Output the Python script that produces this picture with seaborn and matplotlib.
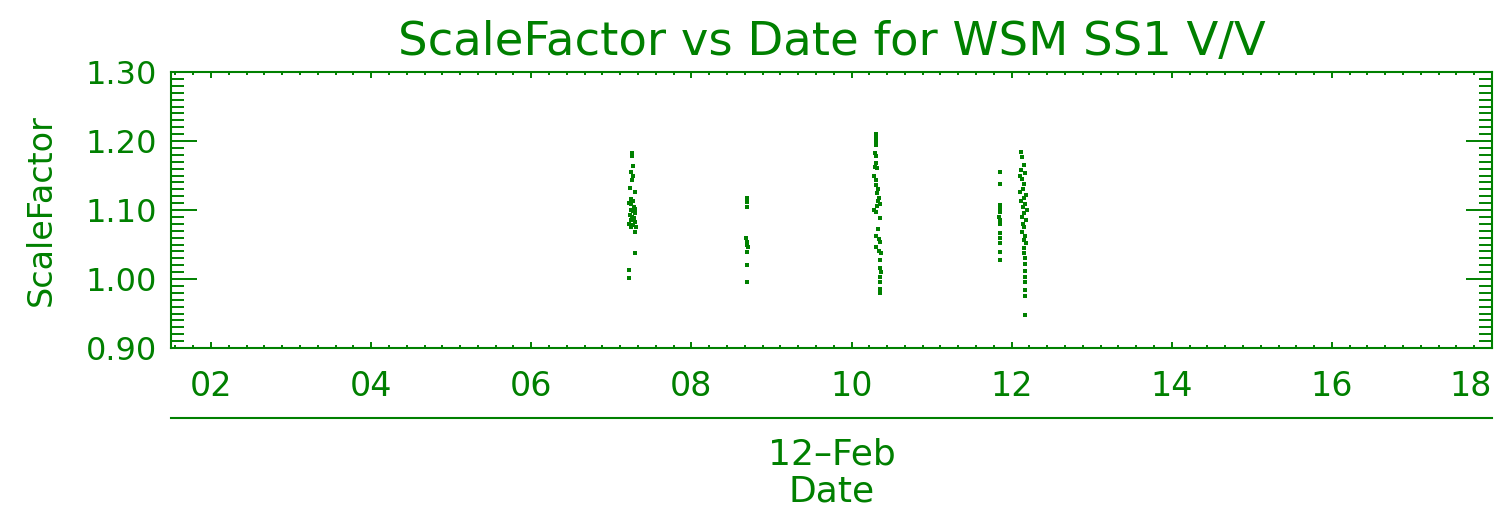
"""
plot.py - ScaleFactor vs Date for WSM SS1 V/V (IDL-style green scatter)
"""

import pandas as pd
import numpy as np
import matplotlib
matplotlib.use('Agg')
import matplotlib.pyplot as plt
from matplotlib.ticker import MultipleLocator, FuncFormatter
import seaborn as sns

# ============================================================
# DATA (day of February, scale factor)
# ============================================================

day_pass1 = [7.26, 7.26, 7.27, 7.25, 7.27, 7.26, 7.23, 7.29, 7.24, 7.27,
             7.22, 7.25, 7.28, 7.30, 7.24, 7.27, 7.29, 7.23, 7.26, 7.28,
             7.25, 7.30, 7.22, 7.27, 7.24, 7.31, 7.29, 7.30, 7.22, 7.22]
sf_pass1 = [1.183, 1.178, 1.164, 1.155, 1.150, 1.143, 1.132, 1.126, 1.116, 1.113,
            1.110, 1.108, 1.105, 1.102, 1.100, 1.098, 1.095, 1.093, 1.090, 1.088,
            1.085, 1.083, 1.080, 1.078, 1.076, 1.075, 1.068, 1.038, 1.013, 1.001]

day_pass2 = [8.70, 8.70, 8.70, 8.68, 8.69, 8.70, 8.71, 8.69, 8.70, 8.69]
sf_pass2 = [1.117, 1.111, 1.104, 1.060, 1.054, 1.050, 1.046, 1.039, 1.021, 0.996]

day_pass3 = [10.30, 10.30, 10.30, 10.30, 10.29, 10.30, 10.31, 10.29, 10.32, 10.28,
             10.30, 10.31, 10.33, 10.32, 10.34, 10.33, 10.32, 10.35, 10.28, 10.30,
             10.35, 10.33, 10.30, 10.34, 10.36, 10.30, 10.34, 10.37, 10.36, 10.35,
             10.37, 10.36, 10.35, 10.36, 10.36]
sf_pass3 = [1.210, 1.205, 1.199, 1.194, 1.183, 1.178, 1.168, 1.163, 1.161, 1.150,
            1.144, 1.136, 1.130, 1.125, 1.118, 1.113, 1.106, 1.108, 1.100, 1.097,
            1.088, 1.072, 1.062, 1.058, 1.053, 1.047, 1.040, 1.037, 1.028, 1.016,
            1.010, 1.003, 0.995, 0.986, 0.979]

day_pass4 = [11.86, 11.86, 11.86, 11.86, 11.86, 11.84, 11.85, 11.86, 11.86, 11.86,
             11.86, 11.86, 11.86]
sf_pass4 = [1.155, 1.137, 1.107, 1.102, 1.097, 1.090, 1.085, 1.080, 1.066, 1.060,
            1.052, 1.039, 1.028]

day_pass5 = [12.12, 12.13, 12.15, 12.12, 12.17, 12.11, 12.13, 12.16, 12.14, 12.11,
             12.18, 12.15, 12.12, 12.17, 12.14, 12.19, 12.16, 12.13, 12.18, 12.14,
             12.16, 12.13, 12.17, 12.15, 12.18, 12.15, 12.16, 12.17, 12.17, 12.17,
             12.17, 12.17, 12.17, 12.17, 12.17]
sf_pass5 = [1.184, 1.177, 1.165, 1.158, 1.154, 1.150, 1.145, 1.138, 1.130, 1.126,
            1.122, 1.117, 1.113, 1.109, 1.105, 1.100, 1.095, 1.090, 1.085, 1.080,
            1.075, 1.068, 1.062, 1.057, 1.052, 1.045, 1.038, 1.030, 1.022, 1.012,
            1.003, 0.995, 0.984, 0.975, 0.948]

x_ticks = [2, 4, 6, 8, 10, 12, 14, 16, 18]
y_ticks = [0.90, 1.00, 1.10, 1.20, 1.30]

GREEN = '#008000'

df = pd.DataFrame({
    'day': day_pass1 + day_pass2 + day_pass3 + day_pass4 + day_pass5,
    'scale_factor': sf_pass1 + sf_pass2 + sf_pass3 + sf_pass4 + sf_pass5,
})

# ============================================================
# PLOT
# ============================================================

sns.set_style('white')
plt.rcParams['font.family'] = ['DejaVu Sans']
plt.rcParams['text.color'] = GREEN
plt.rcParams['axes.labelcolor'] = GREEN
plt.rcParams['xtick.color'] = GREEN
plt.rcParams['ytick.color'] = GREEN
plt.rcParams['axes.edgecolor'] = GREEN

fig = plt.figure(figsize=(15.03, 5.17), dpi=100)
ax = fig.add_axes([171 / 1503, 1 - 348 / 517, (1492 - 171) / 1503, (348 - 72) / 517])

sns.scatterplot(data=df, x='day', y='scale_factor', ax=ax, color=GREEN,
                marker='s', s=6, linewidth=0, legend=False)

ax.set_xlim(1.5, 18.0)
ax.set_ylim(0.90, 1.30)
ax.set_xticks(x_ticks)
ax.set_yticks(y_ticks)
ax.xaxis.set_minor_locator(MultipleLocator(2 / 9))
ax.yaxis.set_minor_locator(MultipleLocator(0.01))
ax.xaxis.set_major_formatter(FuncFormatter(lambda v, p: f'{v:02.0f}'))
ax.yaxis.set_major_formatter(FuncFormatter(lambda v, p: f'{v:.2f}'))

for s in ax.spines.values():
    s.set_linewidth(1.5)
    s.set_color(GREEN)

ax.tick_params(axis='both', which='both', direction='in',
               left=True, right=True, bottom=True, top=True,
               width=1.4, color=GREEN)
ax.tick_params(axis='x', which='major', length=4, pad=16, labelsize=24)
ax.tick_params(axis='x', which='minor', length=2.2)
ax.tick_params(axis='y', which='major', length=19, pad=10, labelsize=23)
ax.tick_params(axis='y', which='minor', length=9.5)

# IDL keeps the last label inside the plot box
fig.canvas.draw()
ax.get_xticklabels()[-1].set_horizontalalignment('right')

ax.set_xlabel('')
ax.set_ylabel('ScaleFactor', fontsize=24, labelpad=20)
ax.set_title('ScaleFactor vs Date for WSM SS1 V/V', fontsize=33.5, pad=12, color=GREEN)

# second axis line below the tick labels carrying the month / axis title
secax = ax.secondary_xaxis(-0.2536)
secax.set_xticks([])
secax.spines['bottom'].set_linewidth(1.5)
secax.spines['bottom'].set_color(GREEN)
secax.set_xlabel('12\u2013Feb\nDate', fontsize=26, labelpad=14, color=GREEN,
                 linespacing=1.1)

plt.savefig('out.png', dpi=100)
print("saved out.png")
